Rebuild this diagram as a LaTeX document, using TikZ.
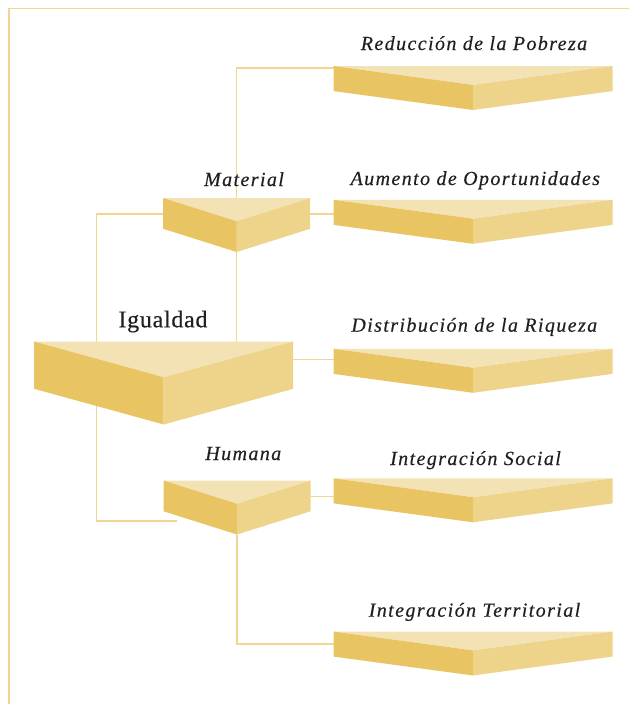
\documentclass[tikz,border=0pt]{standalone}
\usepackage{fontspec}
\setmainfont{Liberation Serif}
\usetikzlibrary{calc}

\definecolor{plTop}{HTML}{F3E3B4}
\definecolor{plLeft}{HTML}{E8C462}
\definecolor{plRight}{HTML}{EED38B}
\definecolor{plLine}{HTML}{F0D690}
\definecolor{txtDark}{HTML}{231F20}

\tikzset{every picture/.style={line width=0.75pt}}
\tikzset{
  plate/.style 2 args={inner sep=0pt, outer sep=0pt, minimum width=#1*0.75pt, minimum height=#2*0.75pt},
  link/.style={draw=plLine, line width=1pt},
  lbl/.style={anchor=base, inner sep=0pt, text=txtDark,
    font=\fontsize{15}{17}\selectfont\itshape\addfontfeatures{LetterSpace=7,FakeBold=0.4}},
  headlbl/.style={anchor=base, inner sep=0pt, text=txtDark,
    font=\fontsize{18}{20}\selectfont\addfontfeatures{LetterSpace=3,FakeBold=0.4}},
}

% three faces of a plate, from the anchors of its node
\newcommand\drawplate[1]{%
  \fill[plTop] (#1.north west) -- (#1.north east) -- ($(#1.north)!0.43!(#1.south)$) -- cycle;
  \fill[plLeft] (#1.north west) -- ($(#1.north)!0.43!(#1.south)$) -- (#1.south) -- ($(#1.north west)!0.57!(#1.south west)$) -- cycle;
  \fill[plRight] ($(#1.north)!0.43!(#1.south)$) -- (#1.north east) -- ($(#1.north east)!0.57!(#1.south east)$) -- (#1.south) -- cycle;
}

\begin{document}
\begin{tikzpicture}[x=0.75pt,y=0.75pt,yscale=-1,xscale=1]
\useasboundingbox (0,0) rectangle (629,704);

%Frame
\draw[plLine, line width=1pt] (629,8.5) -- (9,8.5) -- (9,704);

%Plates
\node[plate={147}{54}] (mat) at (236.7,225) {};
\node[plate={259}{83}] (igu) at (163.7,383) {};
\node[plate={147}{54}] (hum) at (237,507.5) {};
\node[plate={279}{44}] (red) at (473,88) {};
\node[plate={279}{44}] (aum) at (473,221.8) {};
\node[plate={279}{44}] (dis) at (473,370.8) {};
\node[plate={279}{44}] (soc) at (473,500.3) {};
\node[plate={279}{44}] (ter) at (473,653.5) {};
\coordinate (humtail) at (177,521);

%Connectors
\draw[link] (mat.north |- igu.north) |- ($(red.north west)+(0,2)$);
\draw[link] ($(mat.north east)+(0,16)$) coordinate (m1) -- (m1 -| aum.west);
\draw[link] ($(mat.north west)+(0,16)$) -- ++(-67,0) |- (humtail);
\draw[link] ($(igu.north east)+(0,18)$) coordinate (i1) -- (i1 -| dis.west);
\draw[link] ($(hum.north east)+(0,16)$) coordinate (h1) -- (h1 -| soc.west);
\draw[link] (hum.south) |- ($(ter.north west)+(0,12.5)$);

\drawplate{mat}
\drawplate{igu}
\drawplate{hum}
\drawplate{red}
\drawplate{aum}
\drawplate{dis}
\drawplate{soc}
\drawplate{ter}

% Text Node
\node[headlbl] (tIgu) at (163,327.3) {Igualdad};
\node[lbl] (tMat) at (244,186) {Material};
\node[lbl] (tHum) at (243.3,460) {Humana};
\node[lbl] (tRed) at (474,50) {Reducción de la Pobreza};
\node[lbl] (tAum) at (475.3,185) {Aumento de Oportunidades};
\node[lbl] (tDis) at (474.3,331.7) {Distribución de la Riqueza};
\node[lbl] (tSoc) at (475.5,465) {Integración Social};
\node[lbl] (tTer) at (474.5,616.7) {Integración Territorial};

\end{tikzpicture}
\end{document}
